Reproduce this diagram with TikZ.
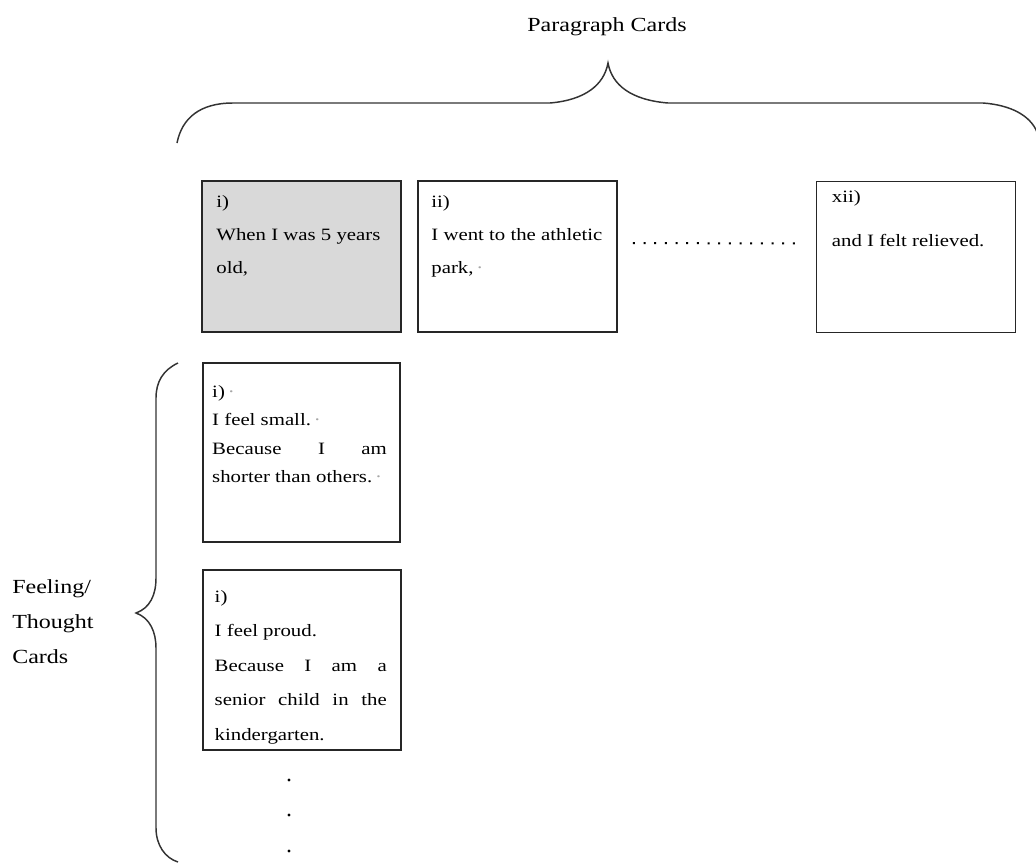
\documentclass[tikz,border=0pt]{standalone}
\usepackage{fontspec}
\setmainfont{Liberation Serif}[FakeStretch=1.2]
\usetikzlibrary{positioning}
\newcommand{\wmark}{{\color{black!35}\,·}}
\tikzset{
    card/.style={draw=black!85, line width=1.3pt, minimum width=149.25pt, minimum height=113.25pt, inner sep=0pt},
    tallcard/.style={card, minimum width=148pt, minimum height=134.5pt},
    cardtext/.style={anchor=north west, inner sep=0pt, align=left, font=\fontsize{13pt}{#1}\selectfont},
    brace/.style={draw=black!80, line width=1.1pt},
    dotrow/.style={line width=1.5pt, dash pattern=on 1.5pt off 6.5pt}
}
\begin{document}
\begin{tikzpicture}[x=0.75pt, y=-0.75pt]
                \useasboundingbox (0,0) rectangle (1036,864);
                \node[font=\fontsize{15pt}{18pt}\selectfont, anchor=base] (title) at (607,31) {Paragraph Cards};
                \node[card, fill=black!15] (para1) at (301.5,256.5) {};
                \node[card] (para2) at (517.5,256.5) {};
                \node[card] (para3) at (916,257) {};
                \node[tallcard] (feel1) at (301.5,452.5) {};
                \node[tallcard] (feel2) at (302,660) {};

                \node[cardtext=24.75pt] (t1) at ([shift={(15,15.3)}]para1.north west) {i)\\When I was 5 years\\old,};
                \node[cardtext=24.75pt] (t2) at ([shift={(14,15.3)}]para2.north west) {ii)\\I went to the athletic\\park,\wmark};
                \node[cardtext=33pt] (t3) at ([shift={(16,9.3)}]para3.north west) {xii)\\and I felt relieved.};
                \node[cardtext=21.25pt] (t4) at ([shift={(10,23.3)}]feel1.north west) {i)\wmark\\I feel small.\wmark\\\hbox to 131pt{Because\hfil I\hfil am}\\shorter than others.\wmark};
                \node[cardtext=25.9pt] (t5) at ([shift={(12,20.3)}]feel2.north west) {i)\\I feel proud.\\\hbox to 129pt{Because\hfil I\hfil am\hfil a}\\\hbox to 129pt{senior\hfil child\hfil in\hfil the}\\kindergarten.};
                \node[anchor=north west, inner sep=0pt, align=left, font=\fontsize{15pt}{26.25pt}\selectfont] (side) at (12,579) {Feeling/\\Thought\\Cards};

                \draw[dotrow, shorten <=11.25pt, shorten >=10.5pt] ([yshift=10.1pt]para2.east) -- ([yshift=10.1pt]para3.west);
                \foreach \y in {780,815,851} \fill (289,\y) circle (1.3pt);

                \draw[brace] (177,143) .. controls (182,118) and (200,103) .. (233,103) -- (550,103) .. controls (585,100) and (604,85) .. (608,63) .. controls (612,85) and (631,100) .. (668,103) -- (983,103) .. controls (1010,105) and (1030,115) .. (1037,132);
                \draw[brace] (178,363) .. controls (163,370) and (156,382) .. (156,398) -- (156,578) .. controls (156,595) and (150,608) .. (136,613) .. controls (150,618) and (156,632) .. (156,648) -- (156,828) .. controls (156,845) and (165,858) .. (178,862);
\end{tikzpicture}
\end{document}
